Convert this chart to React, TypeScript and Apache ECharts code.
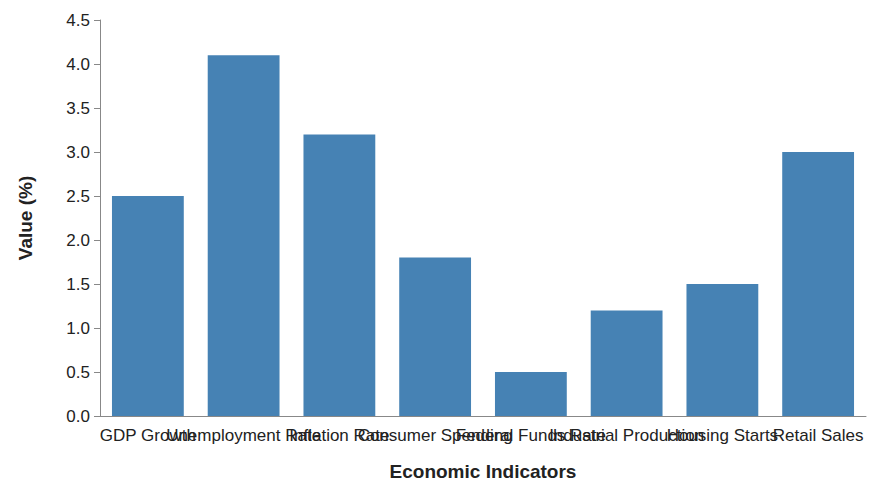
import { useEffect, useRef } from 'react';
import * as echarts from 'echarts';

const categories = [
  'GDP Growth',
  'Unemployment Rate',
  'Inflation Rate',
  'Consumer Spending',
  'Federal Funds Rate',
  'Industrial Production',
  'Housing Starts',
  'Retail Sales',
];
const values = [2.5, 4.1, 3.2, 1.8, 0.5, 1.2, 1.5, 3.0];

const font = 'Liberation Sans, Arial, sans-serif';

export default function App() {
  const chartRef = useRef<HTMLDivElement>(null);

  useEffect(() => {
    if (!chartRef.current) return;
    const chart = echarts.init(chartRef.current, null, { renderer: 'svg' });
    chart.setOption({
      animation: false,
      grid: { left: 90, right: 18, top: 12, bottom: 65 },
      xAxis: {
        type: 'category',
        data: categories,
        name: 'Economic Indicators',
        nameLocation: 'middle',
        nameGap: 46,
        nameTextStyle: { fontFamily: font, fontSize: 19, fontWeight: 'bold', color: '#222' },
        axisLine: { lineStyle: { color: '#888' } },
        axisTick: { alignWithLabel: true, length: 6, lineStyle: { color: '#888' } },
        axisLabel: { interval: 0, fontFamily: font, fontSize: 17, color: '#222', margin: 11 },
      },
      yAxis: {
        type: 'value',
        min: 0,
        max: 4.5,
        interval: 0.5,
        name: 'Value (%)',
        nameLocation: 'middle',
        nameGap: 65,
        nameTextStyle: { fontFamily: font, fontSize: 19, fontWeight: 'bold', color: '#222' },
        axisLine: { show: true, lineStyle: { color: '#888' } },
        axisTick: { show: true, length: 6, lineStyle: { color: '#888' } },
        splitLine: { show: false },
        axisLabel: {
          fontFamily: font,
          fontSize: 17,
          color: '#222',
          margin: 10,
          formatter: (v: number) => v.toFixed(1),
        },
      },
      series: [
        {
          type: 'bar',
          data: values,
          barCategoryGap: '25%',
          itemStyle: { color: '#4682b4' },
        },
      ],
    });
    return () => chart.dispose();
  }, []);

  return <div ref={chartRef} style={{ width: 876, height: 478 }} />;
}
